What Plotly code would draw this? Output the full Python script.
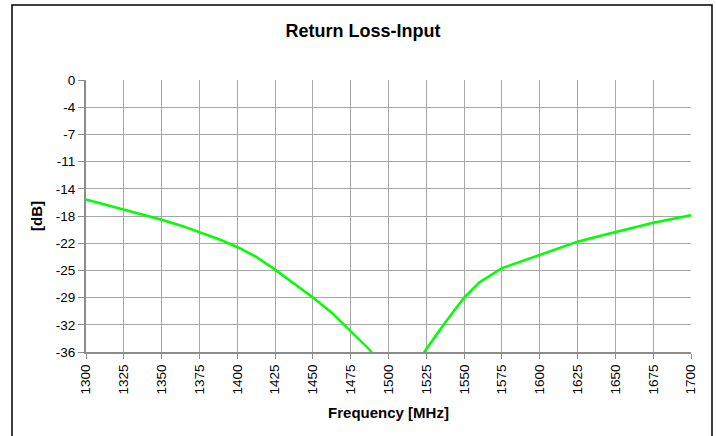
import plotly.graph_objects as go

freq_mhz = [1300, 1312.5, 1325, 1337.5, 1350, 1362.5, 1375, 1387.5, 1400, 1412.5,
            1425, 1437.5, 1450, 1462.5, 1475, 1487.5, 1500, 1512.5, 1525, 1537.5,
            1550, 1560, 1575, 1587.5, 1600, 1612.5, 1625, 1637.5, 1650, 1662.5,
            1675, 1687.5, 1700]
return_loss_db = [-15.8, -16.45, -17.15, -17.8, -18.5, -19.25, -20.1, -21.05, -22.1, -23.4,
                  -25.1, -26.9, -28.8, -30.8, -33.2, -35.7, -39.0, -39.5, -35.6, -32.1,
                  -28.8, -26.8, -24.9, -24.0, -23.1, -22.2, -21.4, -20.75, -20.1, -19.5,
                  -18.9, -18.4, -17.9]

y_tick_vals = [0, -3.6, -7.2, -10.8, -14.4, -18, -21.6, -25.2, -28.8, -32.4, -36]
y_tick_text = ["0", "-4", "-7", "-11", "-14", "-18", "-22", "-25", "-29", "-32", "-36"]
x_tick_vals = list(range(1300, 1701, 25))

W, H = 716, 436
L, R, T, B = 86, 25, 80, 84
pw, ph = W - L - R, H - T - B

fig = go.Figure()
fig.add_trace(go.Scatter(
    x=freq_mhz, y=return_loss_db, mode="lines",
    line=dict(color="#00ff00", width=2.5),
    showlegend=False, hoverinfo="skip",
))

font = "Liberation Sans, Arial, sans-serif"
fig.update_layout(
    width=W, height=H,
    margin=dict(l=L, r=R, t=T, b=B, autoexpand=False),
    paper_bgcolor="white", plot_bgcolor="white",
    font=dict(family=font, size=13, color="black"),
    title=dict(text="<b>Return Loss-Input</b>", x=363 / W, xanchor="center",
               y=1 - 30.5 / H, yanchor="middle", font=dict(size=18, family=font)),
    xaxis=dict(
        range=[1300, 1700], tickvals=x_tick_vals, tickangle=-90,
        showgrid=True, gridcolor="#a6a6a6", gridwidth=1,
        showline=True, linecolor="#8c8c8c", linewidth=2,
        ticks="outside", ticklen=5, tickcolor="#8c8c8c", tickwidth=1,
        tickfont=dict(size=13.5), zeroline=False, automargin=False,
        title=dict(text="<b>Frequency [MHz]</b>", font=dict(size=15), standoff=14),
    ),
    yaxis=dict(
        range=[-36, 0], tickvals=y_tick_vals, ticktext=y_tick_text,
        showgrid=True, gridcolor="#a6a6a6", gridwidth=1,
        showline=True, linecolor="#8c8c8c", linewidth=2,
        ticks="outside", ticklen=6, tickcolor="#8c8c8c", tickwidth=1,
        tickfont=dict(size=13.5), zeroline=False, automargin=False,
        title=dict(text="<b>[dB]</b>", font=dict(size=15), standoff=10),
    ),
)

# outer chart frame
fig.add_shape(type="rect", xref="paper", yref="paper",
              x0=(12 - L) / pw, x1=(712 - L) / pw,
              y0=(H - B - 445) / ph, y1=(H - B - 5) / ph,
              line=dict(color="black", width=1.5), fillcolor="rgba(0,0,0,0)", layer="below")

fig.write_html("out.html", config={"displayModeBar": False},
               post_script="document.body.style.margin='0px';")
